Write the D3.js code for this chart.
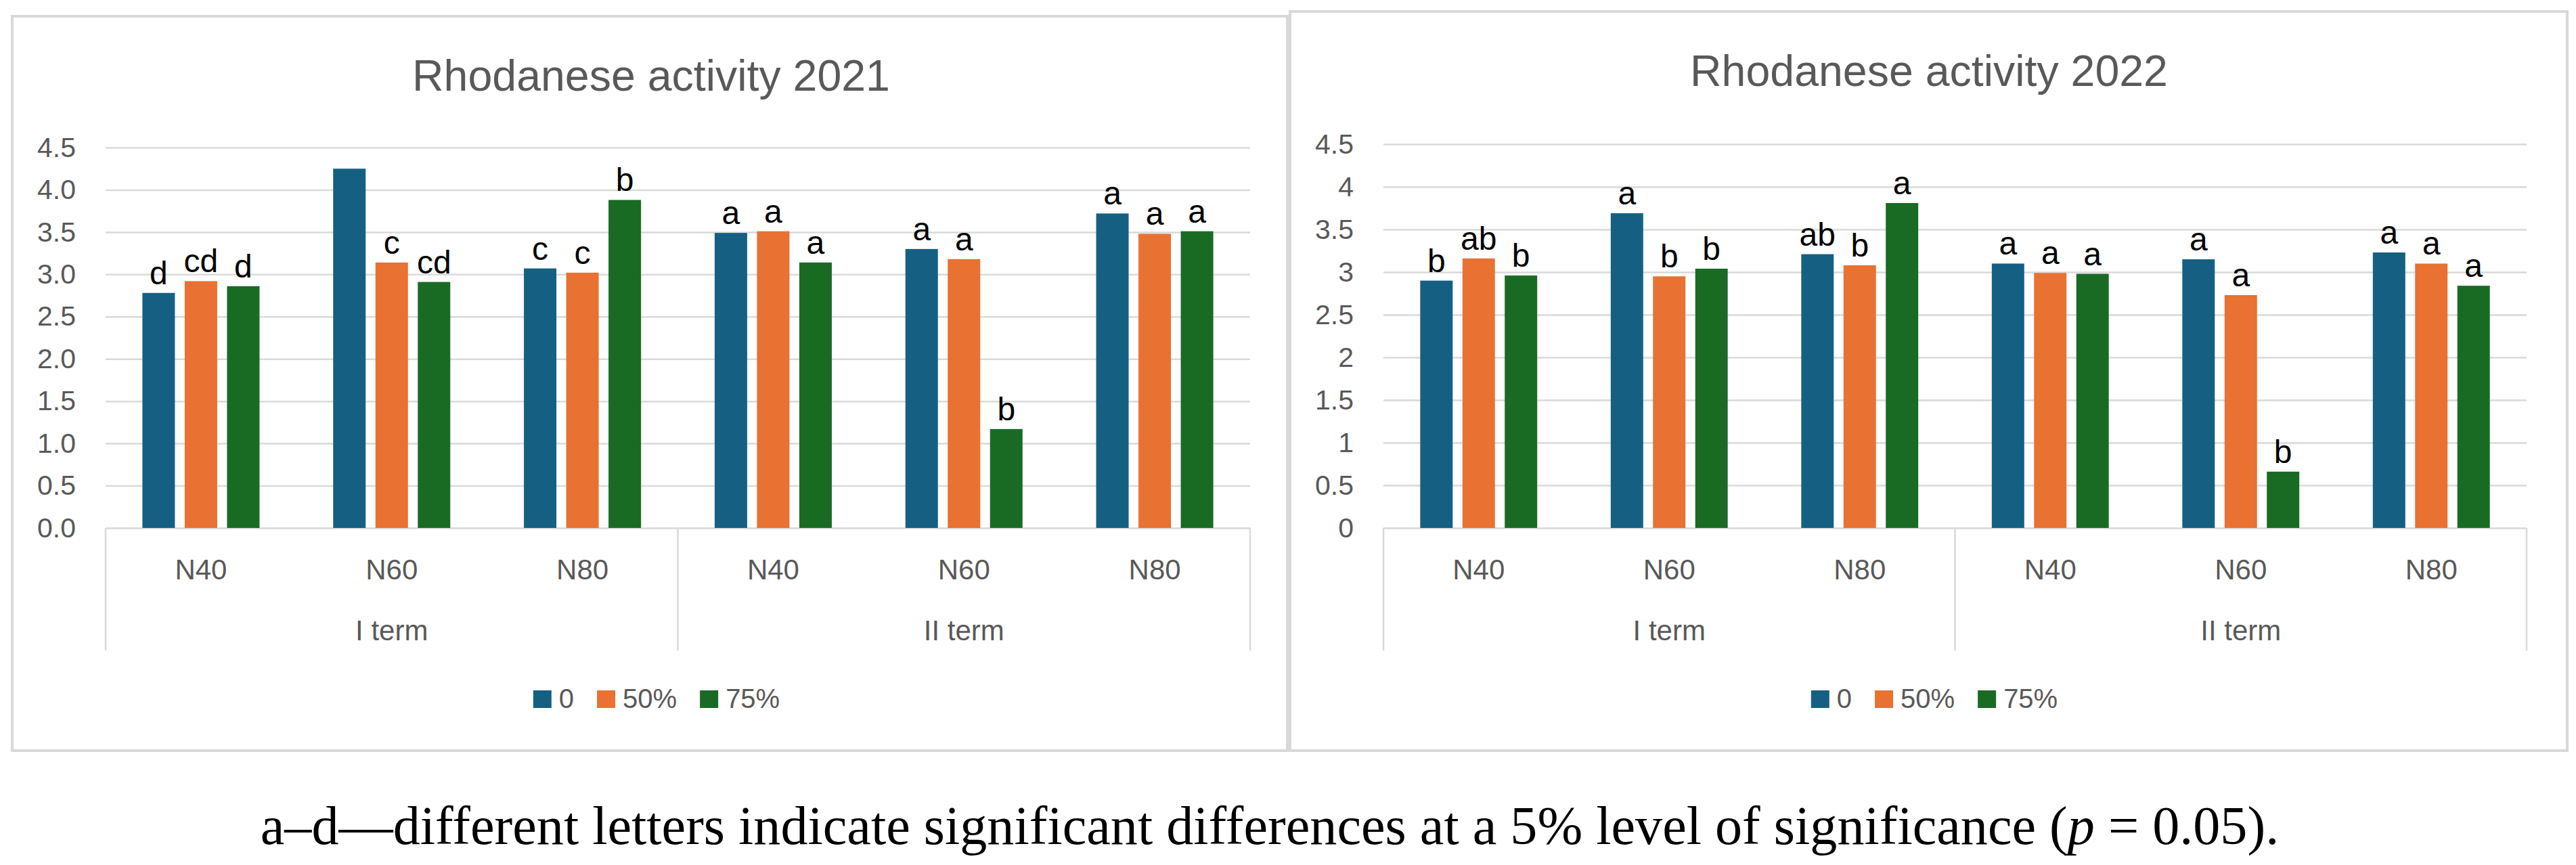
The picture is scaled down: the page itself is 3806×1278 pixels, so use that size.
<!DOCTYPE html>
<html>
<head>
<meta charset="utf-8">
<script src="https://cdn.jsdelivr.net/npm/d3@7"></script>
<style>
  html, body { margin: 0; padding: 0; background: #fff; }
  svg { display: block; }
</style>
</head>
<body>
<svg id="chart" width="3806" height="1278"></svg>
<script>
// categories and series
var subCategories = ["N40", "N60", "N80", "N40", "N60", "N80"];
var termNames = ["I term", "II term"];
var seriesNames = ["0", "50%", "75%"];
var seriesColors = ["#156082", "#E97132", "#196B24"];
var yTicks = [0, 0.5, 1, 1.5, 2, 2.5, 3, 3.5, 4, 4.5];

// Rhodanese activity 2021
var values2021_0 = [2.78, 4.25, 3.07, 3.49, 3.30, 3.72];
var values2021_50 = [2.92, 3.14, 3.02, 3.51, 3.18, 3.48];
var values2021_75 = [2.86, 2.91, 3.88, 3.14, 1.17, 3.51];
var letters2021_0 = ["d", "", "c", "a", "a", "a"];
var letters2021_50 = ["cd", "c", "c", "a", "a", "a"];
var letters2021_75 = ["d", "cd", "b", "a", "b", "a"];

// Rhodanese activity 2022
var values2022_0 = [2.90, 3.69, 3.21, 3.10, 3.15, 3.23];
var values2022_50 = [3.16, 2.95, 3.08, 2.99, 2.73, 3.10];
var values2022_75 = [2.96, 3.04, 3.81, 2.98, 0.66, 2.84];
var letters2022_0 = ["b", "a", "ab", "a", "a", "a"];
var letters2022_50 = ["ab", "b", "b", "a", "a", "a"];
var letters2022_75 = ["b", "b", "a", "a", "b", "a"];

var captionText = "a\u2013d\u2014different letters indicate significant differences at a 5% level of significance (";

var FONT = "'Liberation Sans', Arial, sans-serif";
var GRID = "#d9d9d9";
var TEXT = "#595959";

var svg = d3.select("#chart");

// fit a text element to a given width by changing its font size
function fitWidth(sel, size, width) {
	sel.attr("font-size", size);
	var len = sel.node().getComputedTextLength();
	sel.attr("font-size", size * width / len);
}

function drawPanel(p) {
	var g = svg.append("g");

	g.append("rect")
		.attr("x", p.box[0]).attr("y", p.box[1])
		.attr("width", p.box[2] - p.box[0]).attr("height", p.box[3] - p.box[1])
		.attr("fill", "#fff")
		.attr("stroke", GRID)
		.attr("stroke-width", 4);

	var y = d3.scaleLinear().domain([0, 4.5]).range([p.yZero, p.yTop]);
	var x = d3.scaleBand().domain(d3.range(subCategories.length)).range([p.left, p.right]);
	var xs = d3.scaleBand().domain(seriesNames).range([0, x.bandwidth()])
		.paddingInner(0.232).paddingOuter(0.87);

	// gridlines
	g.append("g")
		.attr("transform", "translate(" + p.left + ",0)")
		.call(d3.axisLeft(y).tickValues(yTicks).tickSize(-(p.right - p.left)).tickFormat(""))
		.call(a => a.select(".domain").remove())
		.call(a => a.selectAll("line").attr("stroke", GRID).attr("stroke-width", 2.5));

	// y tick labels
	g.append("g")
		.attr("transform", "translate(" + p.left + ",0)")
		.attr("font-family", FONT)
		.call(d3.axisLeft(y).tickValues(yTicks).tickSize(0).tickPadding(44).tickFormat(p.tickFormat))
		.call(a => a.select(".domain").remove())
		.call(a => a.selectAll("text").attr("font-size", 41).attr("fill", TEXT));

	// category divider lines under the axis
	[p.left, x(3), p.right].forEach(function(xx) {
		g.append("line")
			.attr("x1", xx).attr("x2", xx)
			.attr("y1", p.yZero).attr("y2", p.divBottom)
			.attr("stroke", GRID).attr("stroke-width", 2.5);
	});

	// bars and letters
	p.series.forEach(function(vals, si) {
		var name = seriesNames[si];
		g.append("g").selectAll("rect")
			.data(vals)
			.enter()
			.append("rect")
			.attr("x", (d, i) => x(i) + xs(name))
			.attr("y", d => y(d))
			.attr("width", xs.bandwidth())
			.attr("height", d => y(0) - y(d))
			.attr("fill", seriesColors[si]);

		g.append("g").selectAll("text")
			.data(vals)
			.enter()
			.append("text")
			.attr("x", (d, i) => x(i) + xs(name) + xs.bandwidth() / 2)
			.attr("y", d => y(d) - 13)
			.attr("text-anchor", "middle")
			.attr("font-family", FONT)
			.attr("font-size", 48)
			.attr("fill", "#000")
			.text((d, i) => p.letters[si][i]);
	});

	// category labels
	g.append("g").selectAll("text")
		.data(subCategories)
		.enter()
		.append("text")
		.attr("x", (d, i) => x(i) + x.bandwidth() / 2)
		.attr("y", p.catY)
		.attr("text-anchor", "middle")
		.attr("font-family", FONT)
		.attr("font-size", 42)
		.attr("fill", TEXT)
		.text(d => d);

	// term labels
	g.append("g").selectAll("text")
		.data(termNames)
		.enter()
		.append("text")
		.attr("x", (d, i) => (x(i * 3) + x(i * 3 + 2) + x.bandwidth()) / 2)
		.attr("y", p.termY)
		.attr("text-anchor", "middle")
		.attr("font-family", FONT)
		.attr("font-size", 42)
		.attr("fill", TEXT)
		.text(d => d);

	// title
	var title = g.append("text")
		.attr("x", p.titleX)
		.attr("y", p.titleY)
		.attr("text-anchor", "middle")
		.attr("font-family", FONT)
		.attr("fill", TEXT)
		.text(p.title);
	fitWidth(title, 64, 706);

	// legend
	var lg = g.append("g");
	var cursor = 0;
	seriesNames.forEach(function(name, i) {
		lg.append("rect")
			.attr("x", cursor).attr("y", p.legendY - 26)
			.attr("width", 27).attr("height", 26)
			.attr("fill", seriesColors[i]);
		var t = lg.append("text")
			.attr("x", cursor + 38)
			.attr("y", p.legendY)
			.attr("font-family", FONT)
			.attr("font-size", 40)
			.attr("fill", TEXT)
			.text(name);
		cursor += 38 + t.node().getComputedTextLength() + 34;
	});
	var legendW = cursor - 34;
	lg.attr("transform", "translate(" + (p.legendCenter - legendW / 2) + ",0)");
}

drawPanel({
	box: [18, 24, 1902, 1109],
	left: 156, right: 1847,
	yZero: 780, yTop: 218,
	divBottom: 961,
	catY: 856, termY: 946,
	titleX: 962, titleY: 134,
	legendY: 1046, legendCenter: 970,
	title: "Rhodanese activity 2021",
	tickFormat: d3.format(".1f"),
	series: [values2021_0, values2021_50, values2021_75],
	letters: [letters2021_0, letters2021_50, letters2021_75]
});

drawPanel({
	box: [1906, 17, 3793, 1109],
	left: 2044, right: 3733,
	yZero: 780, yTop: 213,
	divBottom: 961,
	catY: 856, termY: 946,
	titleX: 2850, titleY: 127,
	legendY: 1046, legendCenter: 2858,
	title: "Rhodanese activity 2022",
	tickFormat: d3.format(""),
	series: [values2022_0, values2022_50, values2022_75],
	letters: [letters2022_0, letters2022_50, letters2022_75]
});

// caption under both charts
var caption = svg.append("text")
	.attr("x", 1876)
	.attr("y", 1247)
	.attr("text-anchor", "middle")
	.attr("font-family", "'Liberation Serif', 'DejaVu Serif', serif")
	.attr("fill", "#000");
caption.append("tspan").text(captionText);
caption.append("tspan").attr("font-style", "italic").text("p");
caption.append("tspan").text(" = 0.05).");
fitWidth(caption, 76, 2983);
</script>
</body>
</html>
